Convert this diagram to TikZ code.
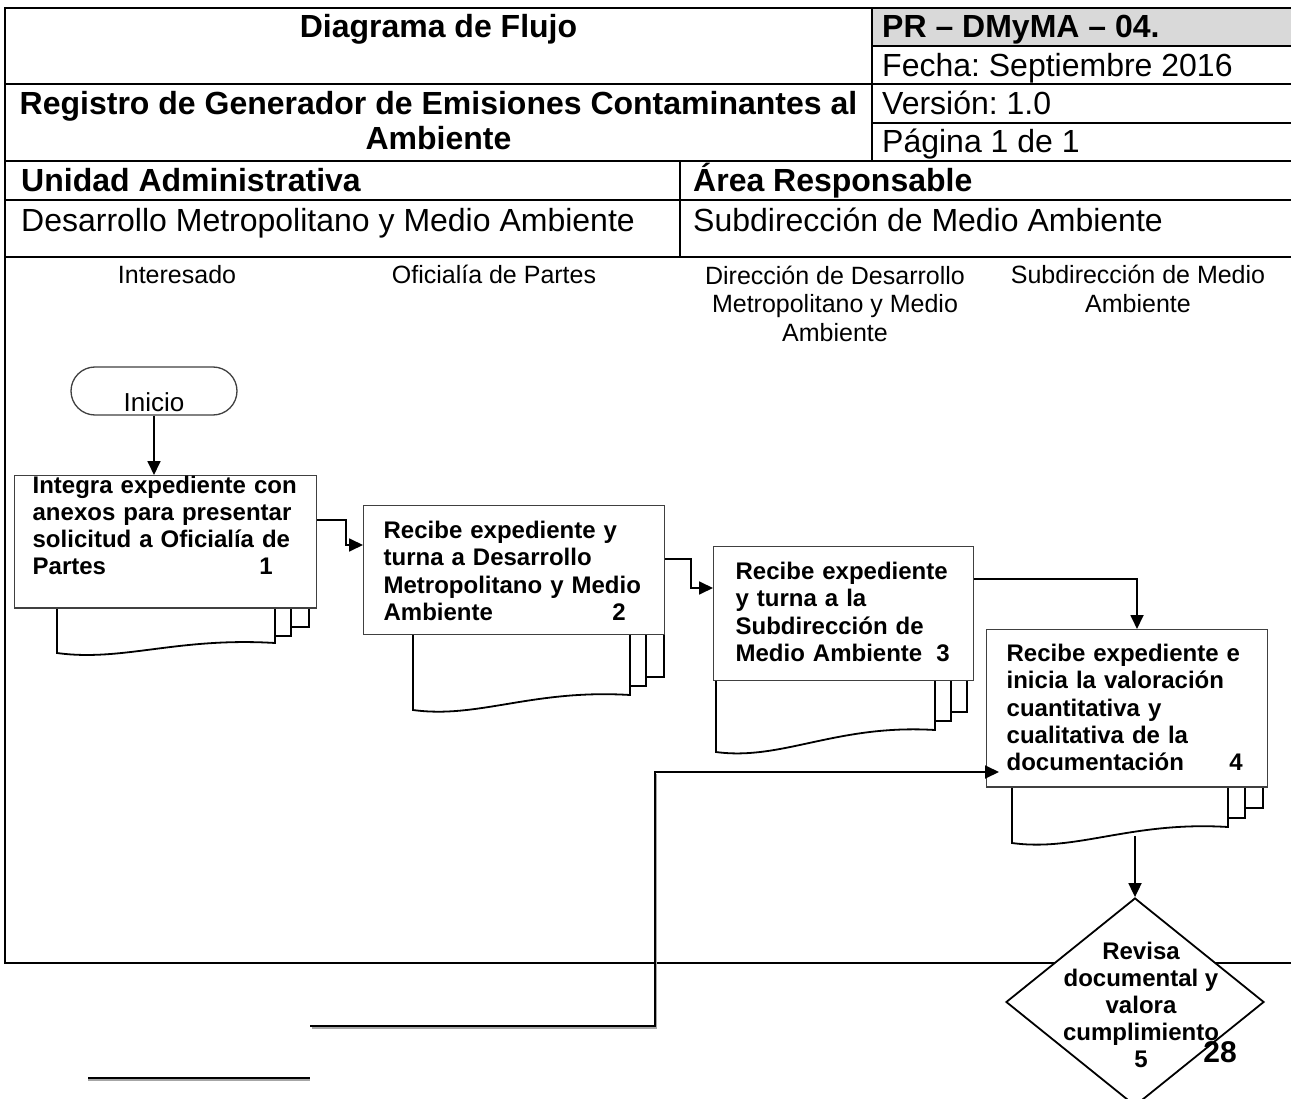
\documentclass[tikz,border=0pt]{standalone}
\usepackage{fontspec}
\setmainfont{Liberation Sans}
\frenchspacing
\usetikzlibrary{arrows.meta,shapes.geometric,shapes.misc}
% #1 L, #2 R (front page), #3 top (hidden), #4 bottom-left y, #5 bottom-right y,
% #6 R2, #7 y2, #8 R3, #9 y3
\newcommand{\docpile}[9]{%
  \filldraw[pile] ({#1+32},#3) rectangle (#8,#9);
  \filldraw[pile] ({#1+16},#3) rectangle (#6,#7);
  \filldraw[pile] (#1,#3) -- (#1,#4)
     .. controls ({#1+0.3*(#2-#1)},{#4+9}) and ({#1+0.55*(#2-#1)},{#5-6}) .. (#2,#5)
     -- (#2,#3) -- cycle;
}
\begin{document}
\begin{tikzpicture}[x=1pt,y=-1pt,
  tbl/.style={line width=2.2pt, line cap=rect},
  hdr/.style={font=\fontsize{32}{35}\selectfont, inner sep=0pt, anchor=base west},
  hdrb/.style={hdr, font=\bfseries\fontsize{32}{35}\selectfont},
  lane/.style={font=\fontsize{25}{29}\selectfont, align=center, inner sep=0pt, anchor=base},
  proc/.style={rectangle, draw=black!75, line width=1.3pt, fill=white, anchor=north west,
     align=left, inner ysep=0pt, font=\bfseries\fontsize{24}{27.3}\selectfont},
  pile/.style={draw=black, fill=white, line width=1.8pt},
  arr/.style={line width=1.8pt, -{Triangle[length=14pt,width=13pt]}},
  plain/.style={line width=1.8pt},
]
\useasboundingbox (0,0) rectangle (1291,1099);
\clip (0,0) rectangle (1291,1099);
\fill[white] (0,0) rectangle (1291,1099);

% ---------- header table ----------
\fill[black!15] (872,8) rectangle (1300,46);
\draw[tbl] (5,8) -- (1300,8);
\draw[tbl] (872,46) -- (1300,46);
\draw[tbl] (5,84) -- (1300,84);
\draw[tbl] (872,123) -- (1300,123);
\draw[tbl] (5,161) -- (1300,161);
\draw[tbl] (5,200) -- (1300,200);
\draw[tbl] (5,257) -- (1300,257);
\draw[tbl] (872,8) -- (872,161);
\draw[tbl] (680,161) -- (680,257);
\draw[tbl] (5,8) -- (5,963) -- (1300,963);

% (multi-line nodes: anchor=base is the baseline of the last line)
\node[hdrb, anchor=base] (tdf) at (438.5,38) {Diagrama de Flujo};
\node[hdrb] (tpr) at (882,38) {PR – DMyMA – 04.};
\node[hdr] (tfe) at (882,77) {Fecha: Septiembre 2016};
\node[hdrb, anchor=base, align=center] (treg) at (438.5,150) {Registro de Generador de Emisiones Contaminantes al\\Ambiente};
\node[hdr] (tve) at (882,115) {Versión: 1.0};
\node[hdr] (tpa) at (882,153) {Página 1 de 1};
\node[hdrb] (tua) at (21,192) {Unidad Administrativa};
\node[hdrb] (tar) at (693,192) {Área Responsable};
\node[hdr] (tdm) at (21,232) {Desarrollo Metropolitano y Medio Ambiente};
\node[hdr] (tsm) at (693,232) {Subdirección de Medio Ambiente};

% ---------- lane headings ----------
\node[lane] (l1) at (177,284) {Interesado};
\node[lane] (l2) at (494,284) {Oficialía de Partes};
\node[lane] (l3) at (835,342) {Dirección de Desarrollo\\Metropolitano y Medio\\Ambiente};
\node[lane] (l4) at (1138,313) {Subdirección de Medio\\Ambiente};

% ---------- document piles ----------
\docpile{57}{275}{600}{653}{643}{291}{636}{309}{627}
\docpile{413}{630}{625}{710}{695}{646}{686}{664}{677}
\docpile{716}{935}{670}{752}{730}{951}{721}{967}{712}
\docpile{1012}{1228}{776}{843}{827}{1245}{818}{1263}{808}

% ---------- process boxes ----------
\node[proc, inner xsep=18pt, text width=266pt] (b1) at (14,475)
 {\rule{0pt}{17pt}Integra expediente con\\anexos para presentar\\solicitud a Oficialía de\\\makebox[240pt][l]{Partes\hfill 1}\rule[-33pt]{0pt}{33pt}};
\node[proc, inner xsep=20pt, text width=261pt] (b2) at (363,505)
 {\rule{0pt}{33pt}Recibe expediente y\\turna a Desarrollo\\Metropolitano y Medio\\\makebox[242pt][l]{Ambiente\hfill 2}\rule[-14pt]{0pt}{14pt}};
\node[proc, inner xsep=22pt, text width=216pt] (b3) at (713,546)
 {\rule{0pt}{33pt}Recibe expediente\\y turna a la\\Subdirección de\\\makebox[214pt][l]{Medio Ambiente\hfill 3}\rule[-19pt]{0pt}{19pt}};
\node[proc, inner xsep=20pt, text width=241pt] (b4) at (986,629)
 {\rule{0pt}{32pt}Recibe expediente e\\inicia la valoración\\cuantitativa y\\cualitativa de la\\\makebox[236pt][l]{documentación\hfill 4}\rule[-16pt]{0pt}{16pt}};

% ---------- start ----------
\node[rounded rectangle, draw=black!75, line width=1.3pt, fill=white,
      minimum width=166pt, minimum height=48pt, inner sep=0pt,
      text height=40pt, text depth=0pt, font=\fontsize{26}{30}\selectfont] (ini) at (154,391) {Inicio};

% ---------- decision ----------
\node[diamond, draw=black, line width=1.8pt, fill=white, minimum width=258pt,
      minimum height=208pt, inner sep=0pt] (d5) at (1135,1002) {};
\node[font=\bfseries\fontsize{24}{27}\selectfont, align=center, inner sep=0pt, anchor=base]
      (d5t) at (1141,1067) {Revisa\\documental y\\valora\\cumplimiento\\5};

% ---------- connectors ----------
\draw[arr] (ini.south) -- (ini.south |- b1.north);
\draw[arr] ([yshift=-45pt]b1.north east) -- ++(29,0) |- ([yshift=-40pt]b2.north west);
\draw[arr] ([yshift=-54pt]b2.north east) -- ++(26,0) |- ([yshift=-42pt]b3.north west);
\draw[arr] ([yshift=-33pt]b3.north east) -| ([xshift=151pt]b4.north west);
\coordinate (s4) at (1135,836);
\draw[arr] (s4) -- (d5.north);
\coordinate (r0) at (310,1026);
\draw[black!35, line width=1.5pt] ([shift={(1.5,2)}]r0) -| ++(345,-254);
\draw[arr] (r0) -| ++(345,-254) -- ([xshift=13pt,yshift=-143pt]b4.north west);

% ---------- page number and footnote rule ----------
\node[font=\bfseries\fontsize{30}{34}\selectfont, inner sep=0pt, anchor=base] (pg) at (1220,1062) {28};
\coordinate (fa) at (88,1078);
\coordinate (fb) at (310,1078);
\draw[black!35, line width=1.5pt] ([yshift=-2pt]fa) -- ([yshift=-2pt]fb);
\draw[plain] (fa) -- (fb);
\end{tikzpicture}
\end{document}
